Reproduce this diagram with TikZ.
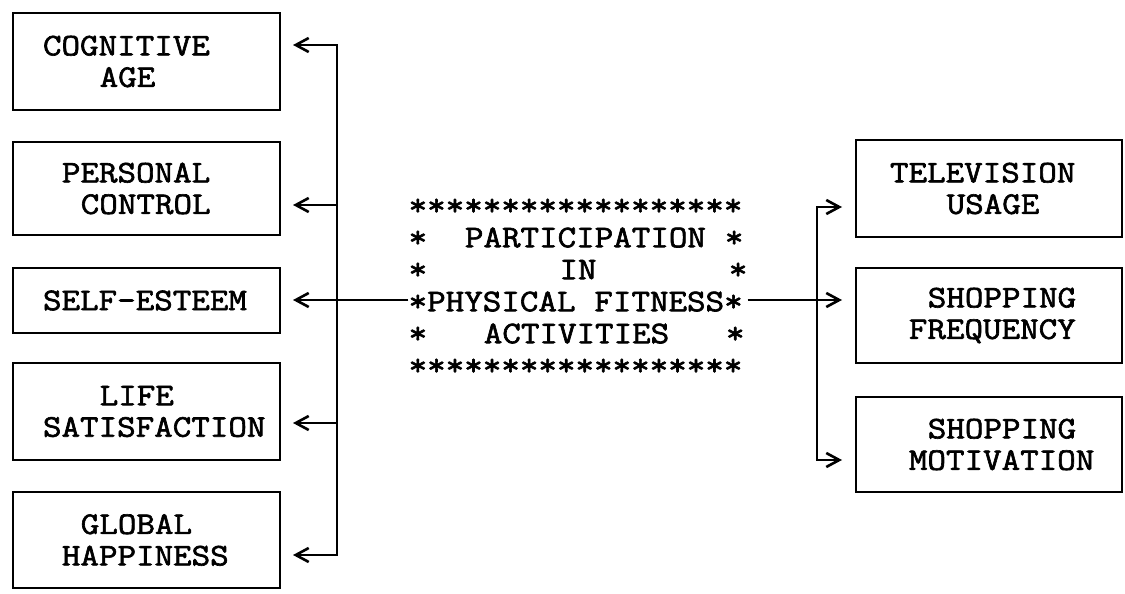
\documentclass[tikz,border=0pt]{standalone}
\usepackage{fontspec}
\setmonofont{Latin Modern Mono}[FakeBold=2,FakeStretch=1.143]
\usetikzlibrary{arrows.meta}
\newcommand{\cgap}[1]{\hspace*{\dimexpr18.9pt*#1\relax}}
\newcommand{\lind}[1]{\hspace*{\dimexpr30pt+18.9pt*#1\relax}}
\newcommand{\rind}[1]{\hspace*{\dimexpr34pt+18.9pt*#1\relax}}
\begin{document}
\begin{tikzpicture}[x=1pt,y=-1pt,
  txt/.style={font=\ttfamily\fontsize{31.5pt}{31.5pt}\selectfont},
  lbox/.style={txt, draw, line width=2pt, inner sep=0pt, text width=267pt, align=left},
  rbox/.style={txt, draw, line width=2pt, inner sep=0pt, text width=266pt, align=left},
  conn/.style={line width=2pt},
  tipped/.style={conn, -{Bar[width=0pt,line width=0pt,sep=0pt] Straight Barb[length=13pt,width=14pt,line width=2.6pt,sep=1pt]}}
]
\useasboundingbox (0,0) rectangle (1125,594);

% left boxes
\node[lbox, minimum height=97pt] (cog)  at (146.5,61.5)  {\lind{0}COGNITIVE\\\lind{3}AGE};
\node[lbox, minimum height=93pt] (per)  at (146.5,188.5) {\lind{1}PERSONAL\\\lind{2}CONTROL};
\node[lbox, minimum height=65pt] (self) at (146.5,300.5) {\lind{0}SELF-ESTEEM};
\node[lbox, minimum height=97pt] (life) at (146.5,411.5) {\lind{3}LIFE\\\lind{0}SATISFACTION};
\node[lbox, minimum height=96pt] (glob) at (146.5,540)   {\lind{2}GLOBAL\\\lind{1}HAPPINESS};

% right boxes
\node[rbox, minimum height=97pt] (tel)  at (989,188.5) {\rind{0}TELEVISION\\\rind{3}USAGE};
\node[rbox, minimum height=95pt] (freq) at (989,315.5) {\rind{2}SHOPPING\\\rind{1}FREQUENCY};
\node[rbox, minimum height=95pt] (mot)  at (989,444.5) {\rind{2}SHOPPING\\\rind{1}MOTIVATION};

% centre block
\node[txt, font=\ttfamily\fontsize{31.5pt}{32pt}\selectfont, inner sep=0pt, align=left] (core) at (578,287) {%
******************\\
*\cgap{2}PARTICIPATION\cgap{1}*\\
*\cgap{7}IN\cgap{7}*\\
*PHYSICAL\cgap{1}FITNESS*\\
*\cgap{3}ACTIVITIES\cgap{3}*\\
******************};

% arrow tip points and junctions
\coordinate (tCog)  at (292,45);
\coordinate (tPer)  at (292,205);
\coordinate (tSelf) at (292,300);
\coordinate (tLife) at (292,423);
\coordinate (tGlob) at (292,555);
\coordinate (jL)    at (337,300);
\coordinate (tTel)  at (843,207);
\coordinate (tFreq) at (843,300);
\coordinate (tMot)  at (843,460);
\coordinate (jR)    at (817,300);

% connectors
\draw[tipped] (core.west |- tSelf) -- (tSelf);
\draw[tipped] (jL) |- (tCog);
\draw[tipped] (jL) |- (tPer);
\draw[tipped] (jL) |- (tLife);
\draw[tipped] (jL) |- (tGlob);
\draw[tipped] (core.east |- tFreq) -- (tFreq);
\draw[tipped] (jR) |- (tTel);
\draw[tipped] (jR) |- (tMot);
\end{tikzpicture}
\end{document}
